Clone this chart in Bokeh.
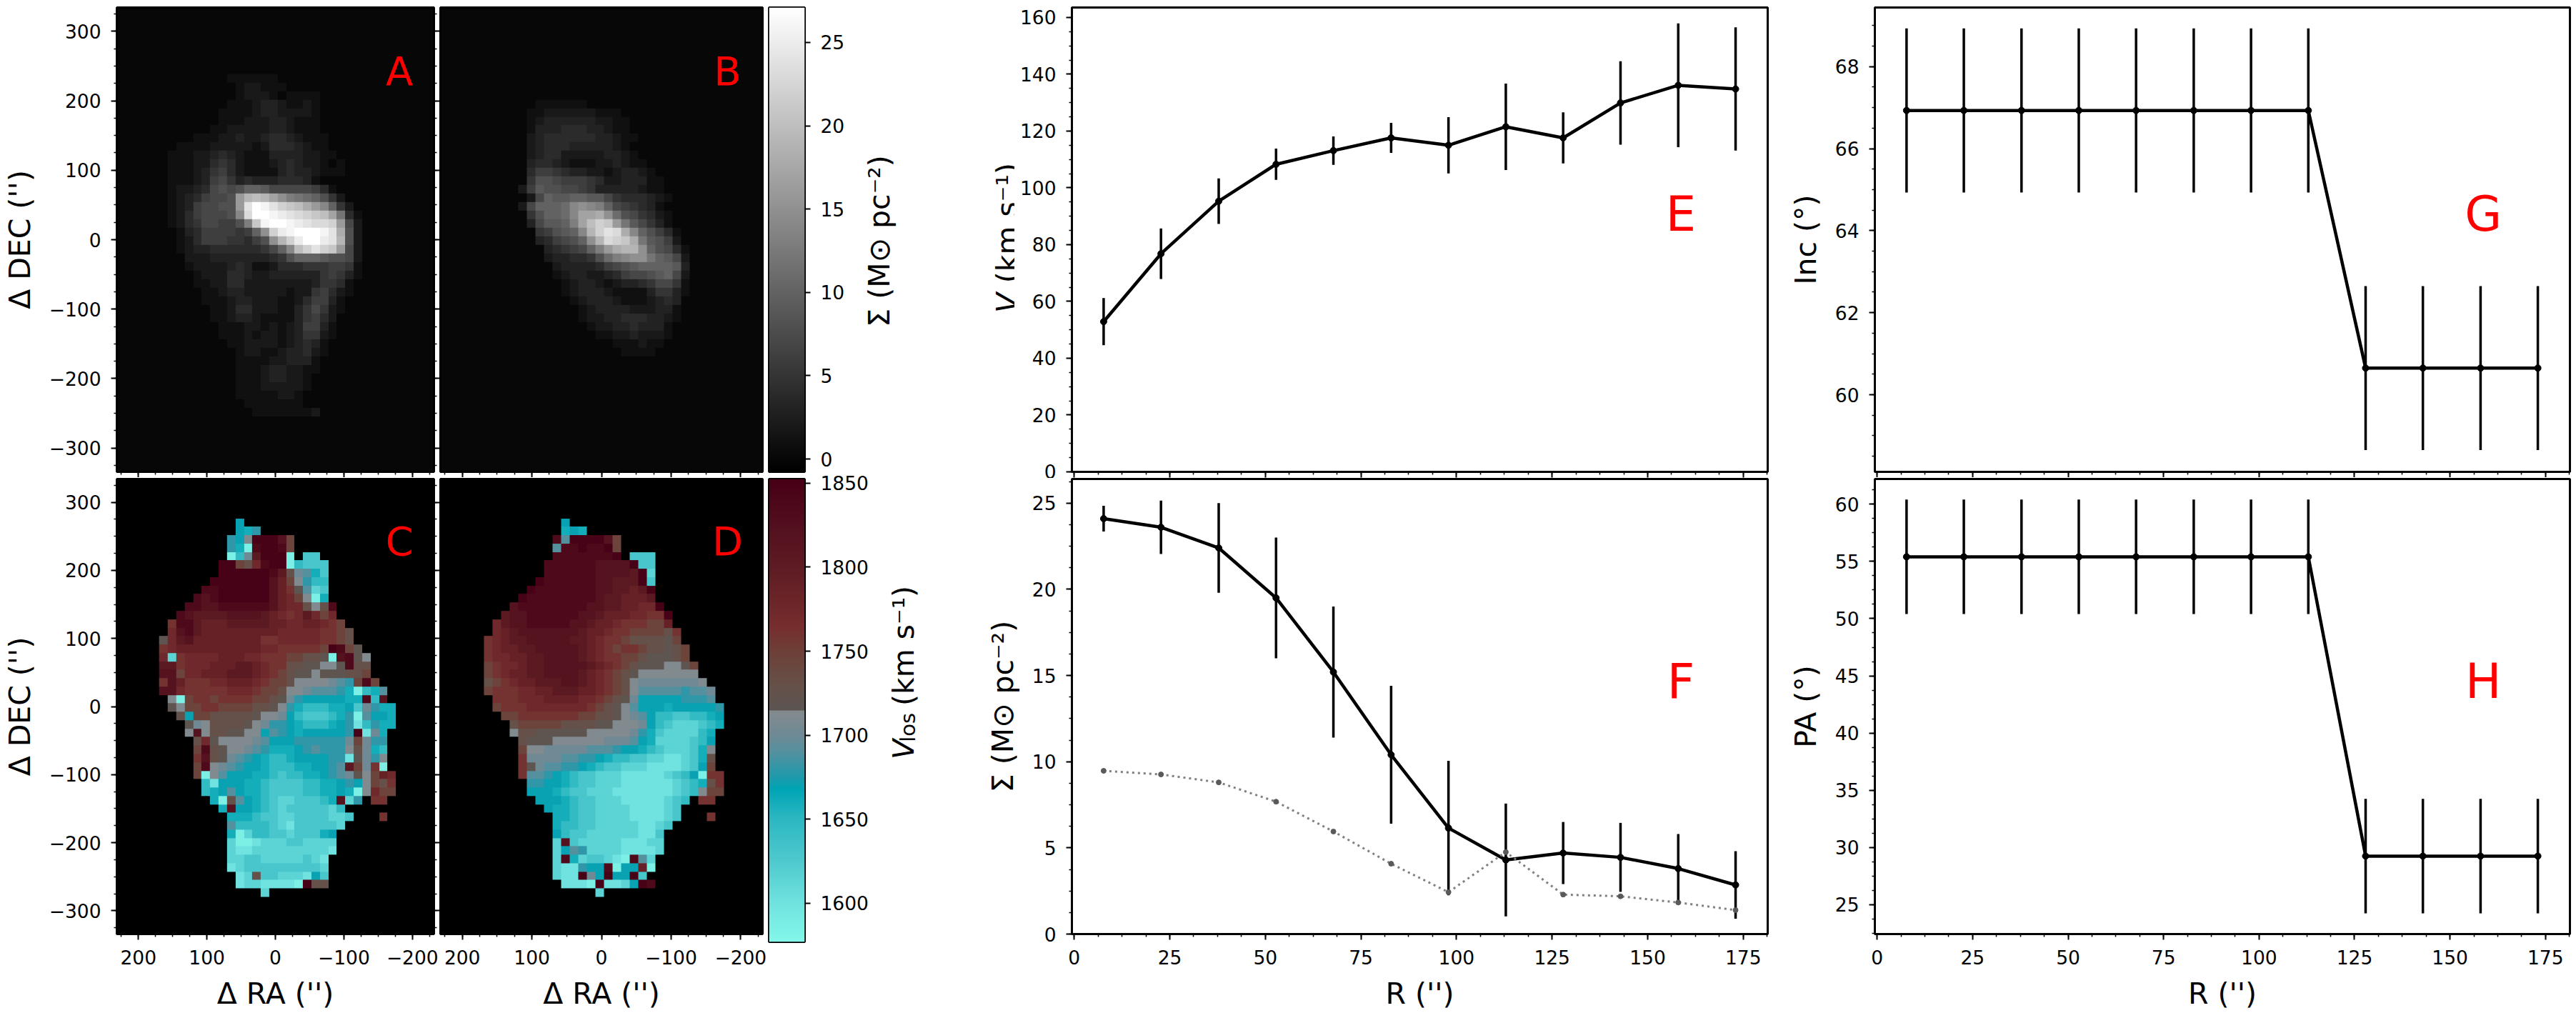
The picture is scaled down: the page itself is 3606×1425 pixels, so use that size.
# plot.py
#
# Gas surface density and velocity maps (observed and model) next to the
# fitted tilted-ring profiles of rotation, surface density, inclination and PA.

# ========
# SETTINGS
# ========

# Libraries
import numpy as np
from bokeh.core.properties import value
from bokeh.embed import file_html
from bokeh.layouts import column, row
from bokeh.models import Label, LinearAxis, LinearColorMapper, Range1d, SingleIntervalTicker
from bokeh.palettes import Greys256
from bokeh.plotting import figure
from bokeh.resources import INLINE

FONT = 'DejaVu Sans'
TICK_SIZE = '26.5px'
LABEL_SIZE = '41px'

# ====
# DATA
# ====

# Ring radii (arcsec)
R_BINS = [7.7, 22.7, 37.8, 52.8, 67.8, 82.9, 97.9, 112.9, 127.9, 142.9, 158.0, 173.0]

# Rotation velocity (km/s)
V_ROT = [52.9, 76.8, 95.3, 108.3, 113.1, 117.6, 115.0, 121.5, 117.6, 129.9, 136.1, 134.8]
V_ROT_ERR = [8.3, 8.9, 8.0, 5.5, 5.0, 5.3, 9.9, 15.2, 9.0, 14.7, 21.8, 21.7]

# Surface density (Msun/pc2)
SIGMA_FIT = [24.1, 23.6, 22.4, 19.5, 15.2, 10.4, 6.15, 4.3, 4.7, 4.45, 3.8, 2.85]
SIGMA_FIT_ERR = [0.75, 1.55, 2.6, 3.5, 3.8, 4.0, 3.9, 3.27, 1.8, 2.0, 2.0, 1.96]
SIGMA_OTHER = [9.47, 9.26, 8.8, 7.68, 5.95, 4.08, 2.43, 4.76, 2.29, 2.19, 1.83, 1.39]

# Inclination and position angle (deg)
INC = [66.93, 66.93, 66.93, 66.93, 66.93, 66.93, 66.93, 66.93, 60.65, 60.65, 60.65, 60.65]
INC_ERR = [2.0, 2.0, 2.0, 2.0, 2.0, 2.0, 2.0, 2.0, 2.0, 2.0, 2.0, 2.0]
PA = [55.4, 55.4, 55.4, 55.4, 55.4, 55.4, 55.4, 55.4, 29.25, 29.25, 29.25, 29.25]
PA_ERR = [5.0, 5.0, 5.0, 5.0, 5.0, 5.0, 5.0, 5.0, 5.0, 5.0, 5.0, 5.0]

# Maps: one string per row, top row first, left (east) column first. Every
# character is a cell. Short rows are blank to the right.
MAP_COLS = 30
MAP_RA_LEFT = 181.2
MAP_RA_RIGHT = -188.4
SIGMA_MAP_DEC_TOP = 250.8
SIGMA_MAP_DEC_BOTTOM = -291.7
VLOS_MAP_DEC_TOP = 276.0
VLOS_MAP_DEC_BOTTOM = -279.7

# Surface density: character index is the value in Msun/pc2
SIGMA_CODES = '0123456789abcdefghijklmnopqr'

SIGMA_OBS_ROWS = [
	'',
	'000000000111111',
	'0000000000122111',
	'00000000001222101111',
	'00000000011123321121',
	'00000000111123322221',
	'00000000111222332111',
	'00000001122222332111',
	'000001112232234432111',
	'000111122222124443211',
	'0011122343211133332211',
	'00111224542111234322101',
	'00111235642111134332111',
	'00111236753433344431',
	'00122347878aa977777641',
	'0012346778gjkjhfdcba852',
	'0012367788gorqomlkigea52',
	'0012467778enrrqponmlkhc41',
	'00124577668dlqrrqponnmg72',
	'000134666656afmpqrrrqoi82',
	'00012466655468fjmprrpoj82',
	'000123344444457aekmomlg72',
	'00002223333333458aaa98872',
	'0000122223431124445556651',
	'0000012224432233333356531',
	'000001122442222222235541',
	'000000112332222212256421',
	'00000011123322211246631',
	'00000001124422211357521',
	'0000000112332111135642',
	'0000000011122121236631',
	'0000000011121221235521',
	'000000000112222123431',
	'000000000012211233421',
	'00000000001111223331',
	'00000000001112332211',
	'0000000000111233221',
	'0000000000111222221',
	'000000000011111221',
	'000000000001111111',
	'00000000000011111112',
	'',
	'',
	'',
]

SIGMA_MODEL_ROWS = [
	'',
	'',
	'',
	'',
	'0000000111111',
	'00000011222222111',
	'000000123333332211',
	'000000133344433211',
	'0000002344444433211',
	'000000234443333321',
	'0000002344222223321',
	'00000034432111223211',
	'000000466543322123321',
	'0000005887666542233311',
	'0000026988776533333211',
	'00000027a99aa9975444321',
	'0000027aaabefeda765431',
	'00000058aabehhifb875421',
	'0000003799adhkmlgc97531',
	'00000005689aejmoniea8641',
	'000000034678afjnmlic9862',
	'0000000034567adgijjfa8741',
	'000000002334458bdeffca972',
	'0000000002333346789aaaa93',
	'0000000001233223467789a72',
	'0000000000123321233457751',
	'0000000000123332111135531',
	'000000000001233321112343',
	'000000000000123333222331',
	'000000000000122334443321',
	'00000000000001223343331',
	'00000000000000112232221',
	'0000000000000000111211',
	'000000000000000001111',
	'',
	'',
	'',
	'',
	'',
	'',
	'',
	'',
	'',
	'',
]

# Line-of-sight velocity: code letters and the km/s each one stands for ('.' is no data)
VLOS_CODES = 'abcdefghijklmnopqrstu'
VLOS_LEVELS = [1585, 1600, 1615, 1630, 1645, 1660, 1670, 1680, 1690, 1700, 1712,
	1718, 1730, 1745, 1760, 1775, 1790, 1805, 1820, 1835, 1848]

VLOS_OBS_ROWS = [
	'..........g',
	'..........gfh',
	'.........hgkuuusn',
	'.........hfatuutn',
	'.........aejruuua.dd',
	'........uunmptuuaeddd',
	'........uuuuuutrmjifd',
	'.......uuuuuuusqnkhee',
	'......ttuuuuuusqolicd',
	'.....tstuuuuuusqpnkaf',
	'....ttssttttttsqppmkmt',
	'...tsrrrrssssrqpoprpnp',
	'..ottrqqqrrrrrqqppqqpon',
	'..pstrqqqqqqqqqpppppoonm',
	'.lprsqqqqqqqqoopppppoonm',
	'.opqqqqqqqqqqppooooonutnl',
	'.pcoppppqqqppooonnmmlastlk',
	'.rropppqqqrrqpoommllkkltmm',
	'.ssnppqqqrrrqponmllklllmmn',
	'.osqoooppqqqponnmkkkkjihntn',
	'.sspoooooppponnmkkjiiihfaefi',
	'..kanoonoooonnmljhgggggfftes',
	'..lknnoonnnnmmlkhfeeeffgdjhff',
	'...mgnnmmmmmlkkjgedddefhaiggf',
	'....ljkmmmmlkjhhgfeeefghbehff',
	'....kskmmllkkgihgfggggghubjf',
	'.....mplkkkkjiggghhhhhhjnjhh',
	'.....ntmlkkjihfffghihhhkmjfe',
	'.....osmljihgfeefgggghhbljhk',
	'.....ntkjihggfeeeffgghirnjoa',
	'.....nakigggffedeeffghijlknqp',
	'......ebgggffeddddeeffghgknmo',
	'......efgigffeddddeeffgfakpnn',
	'.......famigfedccdddefsch.oo',
	'........fsggfedcdddddce',
	'.........fffeddccddddccd...o',
	'.........ieeeedcbdddddc',
	'.........faceeddcdddfg',
	'.........caabcccddcccc',
	'.........cbbcccccccccb',
	'.........ccddcccccdcb',
	'.........bcdddddddddc',
	'..........bcmddcccbgd',
	'..........bccbbbbaumm',
	'.............c',
]

VLOS_MODEL_ROWS = [
	'..........g',
	'..........fgf',
	'.........tiuuuusn',
	'.........ittuttun',
	'.........tttttttu.ddd',
	'........ttttttssssudd',
	'........ttttttssssruc',
	'.......uttttttssrrrud',
	'......utttttttssrrqru',
	'.....uttttttttsrrqqqr',
	'....sttttttttssrrqqppu',
	'...rssttttttssrqqqppoou',
	'..prsstttttssrqqpooonnq',
	'..pqrsssssssrqqpoonnnnmo',
	'.opqrrsssssrrqpoonmmmmln',
	'.opqqrrsssssrqponoonmmlmn',
	'.oppqqrrssssrqpoonnmlllmn',
	'.noppqrrsssssrqponmlllkkln',
	'.nopqqrrssssrqponmlkkkkkkk',
	'.mnopqqrrrssrqponmkjjjjjjjk',
	'.noooppqqrrrqqponmkiiiiihiij',
	'..ooopppqqqqpponmljggggghhhi',
	'..noooppppppponmlkigggfgggggh',
	'...nnooooooonnmmlkjigeeddeefg',
	'....mnnnnnmmmmllkkkjgedcccdef',
	'....kmmllllllkkkkkjhfdccccef',
	'.....mlllkkkkkkjjjigfccccdeg',
	'.....nkkjjjjjiiihggfedcccdfk',
	'.....ojjjjiihhgfeeddccbbcdfm',
	'.....oljiihhgfeddcccbbbbcdgn',
	'.....oiihgfeddcccbbbbbcdegaoo',
	'......hhggfeddcccbbbbbbcdefmo',
	'......gggfeddcccbbbbbbbcdeknn',
	'.......gggfeddcccbbbbbcde.oo',
	'........gffeddccccbbbbcd',
	'.........ffeddccccbbbbcd...o',
	'.........feeddcccccbbcd',
	'.........geddccccccbbd',
	'.........csdcccccbbbcc',
	'.........cgihccccbbbbc',
	'.........ctfcddcbatic',
	'.........cbbhggtaggqa',
	'.........cbbujguggud',
	'..........bbbaubbcgut',
	'..............c',
]

# Colour bar limits and the velocity colour scale anchors
SIGMA_LOW = -0.77
SIGMA_HIGH = 27.1
VLOS_LOW = 1577.0
VLOS_HIGH = 1852.5
VLOS_ANCHOR_VALUES = [1577, 1600, 1625, 1650, 1668, 1675, 1690, 1700, 1714.7,
	1714.8, 1730, 1750, 1765, 1800, 1825, 1852.5]
VLOS_ANCHOR_COLORS = ['#85f8ea', '#70e3e0', '#4fcace', '#2db8c2', '#00a5b5', '#1e9bac',
	'#55919f', '#6f8b96', '#858a8e', '#5c5552', '#665149', '#6e4038', '#772e2e',
	'#5e1c24', '#53101f', '#470016']

# ======
# LAYOUT
# ======

# Page position of each frame: left, width and top, height (px)
ROW_TOP = (10, 650)
ROW_BOTTOM = (670, 648)
COL_MAP1 = (156, 451)
COL_MAP2 = (616, 451)
COL_BAR = (1076, 50)
COL_MID = (1500, 974)
COL_RIGHT = (2624, 973)

# Figure extent on the page: columns left to right, and where each column splits its two rows
FIG_EDGES = [0, 615, 1074, 1290, 2476, 3599]
ROW_SPLIT = [668, 668, 664, 669, 668]
PAGE_BOTTOM = 1417

# Right edge of the colour bar figures and left edge of panel E: text strips take the rest
BAR_TOP_RIGHT = 1192
BAR_BOTTOM_RIGHT = 1228
PANEL_E_LEFT = 1420

# =======
# HELPERS
# =======

def tidy_axis(axis, interval, minor=4, blank=False):
	'''Common tick style for one axis'''

	axis.ticker = SingleIntervalTicker(interval=interval, num_minor_ticks=minor)
	axis.axis_line_color = None
	axis.major_tick_in = 0
	axis.minor_tick_in = 0
	axis.major_tick_out = 8
	axis.minor_tick_out = 4 if minor else 0
	axis.major_tick_line_width = 2
	axis.minor_tick_line_width = 1.5
	axis.major_tick_line_color = 'black'
	axis.minor_tick_line_color = 'black' if minor else None
	axis.major_label_text_font = FONT
	axis.major_label_text_color = 'black'
	axis.major_label_text_font_size = TICK_SIZE
	axis.major_label_standoff = 14
	axis.axis_label_text_font = FONT
	axis.axis_label_text_font_size = LABEL_SIZE
	axis.axis_label_text_font_style = 'normal'
	axis.axis_label_text_color = 'black'
	axis.axis_label_standoff = 14

	# No labels on this side
	if blank:
		axis.major_label_text_font_size = '0px'
		axis.major_label_text_color = None
		axis.major_label_standoff = 0


def minus_labels(axis, ticks):
	'''Proper minus signs on negative tick labels'''

	axis.major_label_overrides = {t: str(t).replace('-', '\u2212') for t in ticks if t < 0}


def make_panel(col, row_pos, x_range, y_range, fig_index, row_index, fig_left=None, fig_right=None, **kwargs):
	'''Figure with its frame at a fixed place on the page'''

	fig_left = FIG_EDGES[fig_index] if fig_left is None else fig_left
	fig_right = FIG_EDGES[fig_index + 1] if fig_right is None else fig_right
	fig_top = 0 if row_index == 0 else ROW_SPLIT[fig_index]
	fig_bottom = ROW_SPLIT[fig_index] if row_index == 0 else PAGE_BOTTOM

	p = figure(
		width=fig_right - fig_left,
		height=fig_bottom - fig_top,
		x_range=Range1d(*x_range),
		y_range=Range1d(*y_range),
		min_border_left=col[0] - fig_left,
		min_border_right=fig_right - col[0] - col[1],
		min_border_top=row_pos[0] - fig_top,
		min_border_bottom=fig_bottom - row_pos[0] - row_pos[1],
		output_backend='svg',
		toolbar_location=None,
		**kwargs
		)
	p.grid.visible = False
	p.outline_line_color = 'black'
	p.outline_line_width = 3
	return p


def text_strip(left, right, top, bottom):
	'''Empty figure whose data coordinates are page pixels, for mixed-style axis titles'''

	p = figure(
		width=right - left,
		height=bottom - top,
		x_range=Range1d(left, right),
		y_range=Range1d(bottom, top),
		min_border=0,
		x_axis_location=None,
		y_axis_location=None,
		output_backend='svg',
		toolbar_location=None
		)
	p.grid.visible = False
	p.outline_line_color = None
	return p


def strip_text(p, text, px, py, size=LABEL_SIZE, style='normal', align='left'):
	'''Rotated text in a strip, reading upwards from page position px, py'''

	p.text(x=[px], y=[py], text=[text], angle=np.pi / 2, text_font=value(FONT), text_font_size=value(size),
		text_font_style=style, text_align=align, text_baseline='alphabetic', text_color='black')


def frame_letter(p, place, text, px, py, size):
	'''Red panel letter, placed by its page position inside the frame'''

	col, row_pos = place
	x0, x1 = p.x_range.start, p.x_range.end
	y0, y1 = p.y_range.start, p.y_range.end
	x = x0 + (px - col[0]) / col[1] * (x1 - x0)
	y = y1 + (py - row_pos[0]) / row_pos[1] * (y0 - y1)
	p.add_layout(Label(x=x, y=y, text=text, text_font=FONT, text_font_size=size,
		text_align='center', text_baseline='middle', text_color='red'))


def decode_map(rows, codes, levels):
	'''Turn the character rows into a 2D array for image(), which draws the
	bottom row first and starts from the lowest RA on the right of this axis'''

	lookup = dict(zip(codes, levels))
	grid = np.full((len(rows), MAP_COLS), np.nan)
	for j, text in enumerate(rows):
		for i, char in enumerate(text[:MAP_COLS]):
			grid[j, i] = lookup.get(char, np.nan)
	return np.flipud(np.fliplr(grid))

# ====
# MAPS
# ====

RA_TICKS = [-200, -100, 0, 100, 200]
DEC_TICKS = [-300, -200, -100, 0, 100, 200, 300]
RA_LIMITS = (231.5, -231.5)
DEC_LIMITS = (-334.3, 334.3)


def map_panel(col, row_pos, fig_index, row_index, rows, mapper, codes, levels, dec_top, dec_bottom, background, letter, labelled_dec):
	'''One of the four map panels'''

	bottom = row_index == 1
	p = make_panel(col, row_pos, RA_LIMITS, DEC_LIMITS, fig_index, row_index)

	grid = decode_map(rows, codes, levels)
	p.background_fill_color = background
	p.image(image=[grid], x=MAP_RA_RIGHT, y=dec_bottom, dw=MAP_RA_LEFT - MAP_RA_RIGHT,
		dh=dec_top - dec_bottom, color_mapper=mapper)

	# Axes
	tidy_axis(p.xaxis[0], 100, blank=not bottom)
	minus_labels(p.xaxis[0], RA_TICKS)
	tidy_axis(p.yaxis[0], 100, blank=not labelled_dec)
	minus_labels(p.yaxis[0], DEC_TICKS)
	if bottom:
		p.xaxis[0].axis_label = "\u0394 RA ('')"
	if labelled_dec:
		p.yaxis[0].axis_label = "\u0394 DEC ('')"

	# Panel letter
	frame_letter(p, (col, row_pos), letter, col[0] + 402, row_pos[0] + 89, '56px')
	return p


def color_bar_panel(row_pos, row_index, mapper, low, high, interval, fig_right):
	'''Colour bar as a narrow image with its own axis'''

	p = make_panel(COL_BAR, row_pos, (0, 1), (low, high), 2, row_index, fig_right=fig_right,
		x_axis_location=None, y_axis_location='right')
	ramp = np.linspace(low, high, 1024).reshape(-1, 1)
	p.image(image=[ramp], x=0, y=low, dw=1, dh=high - low, color_mapper=mapper)
	tidy_axis(p.yaxis[0], interval, minor=0)
	return p

# ========
# PROFILES
# ========

R_LIMITS = (-0.6, 181.4)


def profile_panel(col, row_pos, fig_index, row_index, y_limits, interval, y, y_err, letter, letter_y, label_text=None, fig_left=None):
	'''Radial profile with error bars'''

	bottom = row_index == 1
	p = make_panel(col, row_pos, R_LIMITS, y_limits, fig_index, row_index, fig_left=fig_left)

	y = np.array(y)
	y_err = np.array(y_err)
	p.segment(R_BINS, y - y_err, R_BINS, y + y_err, line_color='black', line_width=3.5)
	p.line(R_BINS, y, line_color='black', line_width=4.5)
	p.scatter(R_BINS, y, size=9, color='black')

	# Axes
	tidy_axis(p.xaxis[0], 25, blank=not bottom)
	tidy_axis(p.yaxis[0], interval)
	if bottom:
		p.xaxis[0].axis_label = "R ('')"
	if label_text:
		p.yaxis[0].axis_label = label_text

	# Panel letter
	p.add_layout(Label(x=158.7, y=letter_y, text=letter, text_font=FONT, text_font_size='67px',
		text_align='center', text_baseline='middle', text_color='red'))
	return p

# ====
# MAIN
# ====

def main():
	'''main'''

	# Colour scales
	sigma_mapper = LinearColorMapper(palette=list(Greys256), low=SIGMA_LOW, high=SIGMA_HIGH, nan_color='#070707')
	ramp = np.linspace(VLOS_LOW, VLOS_HIGH, 1024)
	rgb = np.array([[int(c[i:i + 2], 16) for i in (1, 3, 5)] for c in VLOS_ANCHOR_COLORS])
	channels = [np.interp(ramp, VLOS_ANCHOR_VALUES, rgb[:, k]) for k in range(3)]
	vlos_palette = ['#%02x%02x%02x' % (int(a), int(b), int(c)) for a, b, c in zip(*channels)]
	vlos_mapper = LinearColorMapper(palette=vlos_palette, low=VLOS_LOW, high=VLOS_HIGH, nan_color='black')

	# Maps
	sigma_levels = list(range(len(SIGMA_CODES)))
	pa = map_panel(COL_MAP1, ROW_TOP, 0, 0, SIGMA_OBS_ROWS, sigma_mapper, SIGMA_CODES, sigma_levels,
		SIGMA_MAP_DEC_TOP, SIGMA_MAP_DEC_BOTTOM, '#070707', 'A', True)
	pb = map_panel(COL_MAP2, ROW_TOP, 1, 0, SIGMA_MODEL_ROWS, sigma_mapper, SIGMA_CODES, sigma_levels,
		SIGMA_MAP_DEC_TOP, SIGMA_MAP_DEC_BOTTOM, '#070707', 'B', False)
	pc = map_panel(COL_MAP1, ROW_BOTTOM, 0, 1, VLOS_OBS_ROWS, vlos_mapper, VLOS_CODES, VLOS_LEVELS,
		VLOS_MAP_DEC_TOP, VLOS_MAP_DEC_BOTTOM, 'black', 'C', True)
	pd = map_panel(COL_MAP2, ROW_BOTTOM, 1, 1, VLOS_MODEL_ROWS, vlos_mapper, VLOS_CODES, VLOS_LEVELS,
		VLOS_MAP_DEC_TOP, VLOS_MAP_DEC_BOTTOM, 'black', 'D', False)

	# The second map column has no room on its left: its ticks come from the first column
	for left_map, right_map in ((pa, pb), (pc, pd)):
		right_map.yaxis.visible = False
		extra = LinearAxis()
		tidy_axis(extra, 100, blank=True)
		left_map.add_layout(extra, 'right')

	# Colour bars and their titles
	pbar1 = color_bar_panel(ROW_TOP, 0, sigma_mapper, SIGMA_LOW, SIGMA_HIGH, 5, BAR_TOP_RIGHT)
	pbar2 = color_bar_panel(ROW_BOTTOM, 1, vlos_mapper, VLOS_LOW, VLOS_HIGH, 50, BAR_BOTTOM_RIGHT)
	strip1 = text_strip(BAR_TOP_RIGHT, FIG_EDGES[3], 0, ROW_SPLIT[2])
	strip_text(strip1, '\u03a3 (M\u2299 pc\u207b\u00b2)', 1230, 334, align='center')
	strip2 = text_strip(BAR_BOTTOM_RIGHT, FIG_EDGES[3], ROW_SPLIT[2], PAGE_BOTTOM)
	strip_text(strip2, 'V', 1264, 1120, style='italic')
	strip_text(strip2, 'los', 1270, 1092, size='29px')
	strip_text(strip2, '(km s\u207b\u00b9)', 1264, 1033)

	# Profiles
	pe = profile_panel(COL_MID, ROW_TOP, 3, 0, (0, 163.5), 20, V_ROT, V_ROT_ERR, 'E', 90.6, fig_left=PANEL_E_LEFT)
	strip3 = text_strip(FIG_EDGES[3], PANEL_E_LEFT, 0, ROW_SPLIT[3])
	strip_text(strip3, 'V', 1409, 440, style='italic')
	strip_text(strip3, '(km s\u207b\u00b9)', 1409, 397)

	pf = profile_panel(COL_MID, ROW_BOTTOM, 3, 1, (0, 26.4), 5, SIGMA_FIT, SIGMA_FIT_ERR, 'F', 14.6,
		'\u03a3 (M\u2299 pc\u207b\u00b2)')
	pf.line(R_BINS, SIGMA_OTHER, line_color='#808080', line_width=3, line_dash='3 5')
	pf.scatter(R_BINS, SIGMA_OTHER, size=7, color='#5a5a5a')

	pg = profile_panel(COL_RIGHT, ROW_TOP, 4, 0, (58.12, 69.44), 2, INC, INC_ERR, 'G', 64.39, 'Inc (\u00b0)')
	ph = profile_panel(COL_RIGHT, ROW_BOTTOM, 4, 1, (22.44, 62.2), 5, PA, PA_ERR, 'H', 44.5, 'PA (\u00b0)')

	# Arrange plots
	grid = row(
		column(pa, pc, spacing=0),
		column(pb, pd, spacing=0),
		column(row(pbar1, strip1, spacing=0), row(pbar2, strip2, spacing=0), spacing=0),
		column(row(strip3, pe, spacing=0), pf, spacing=0),
		column(pg, ph, spacing=0),
		spacing=0
		)

	# Save figure
	open('out.html', 'w').write(file_html(grid, INLINE))

# ====
# CALL
# ====

main()
